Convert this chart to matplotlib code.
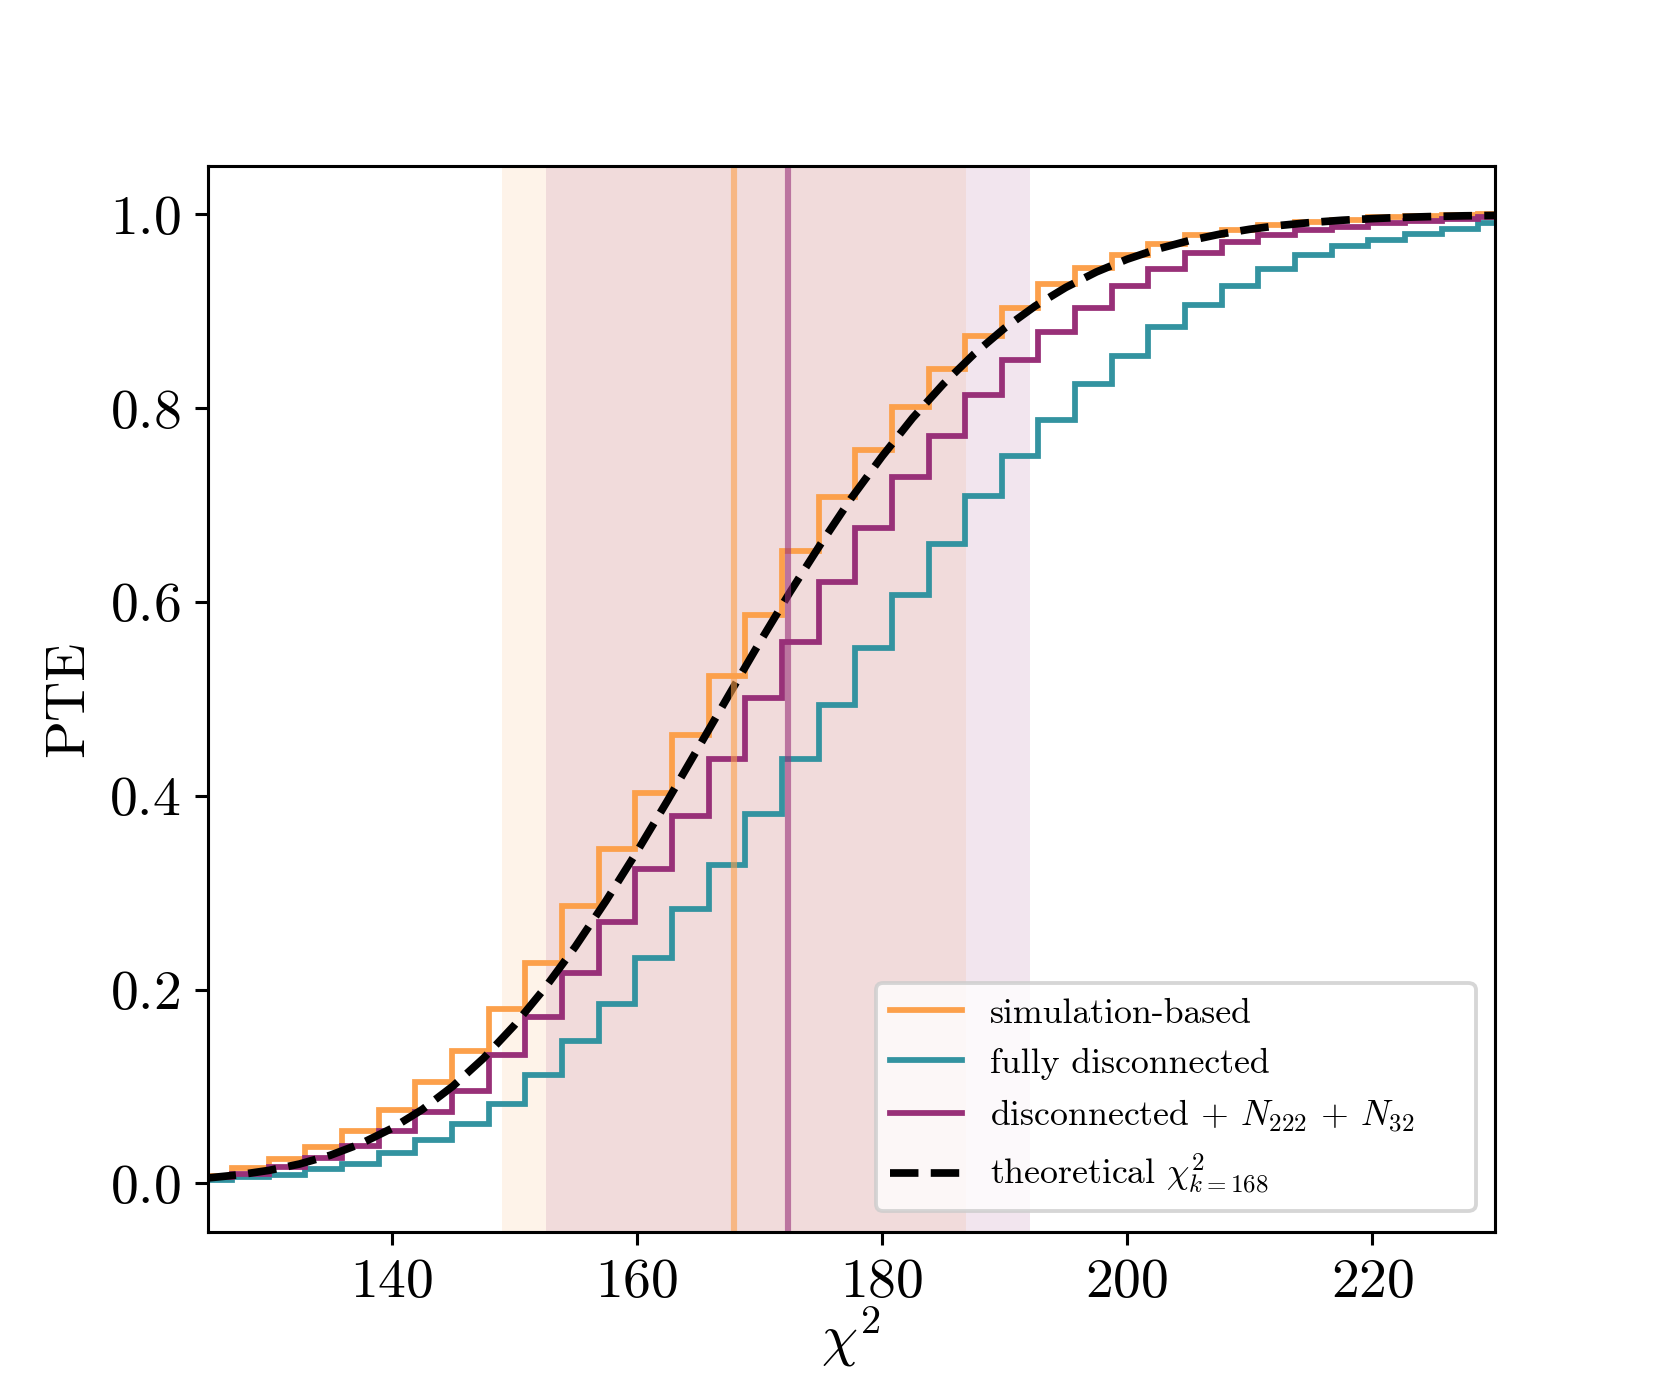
import numpy as np
import matplotlib
matplotlib.use("Agg")
import matplotlib.pyplot as plt

plt.rcParams["font.family"] = "serif"
plt.rcParams["font.serif"] = ["cmr10"]
plt.rcParams["mathtext.fontset"] = "cm"
plt.rcParams["axes.formatter.use_mathtext"] = True

# cumulative histograms (PTE), shared bins
bin_start = 124.0
bin_width = 2.99
sim_based = [0.008, 0.016, 0.025, 0.037, 0.054, 0.076, 0.105, 0.137, 0.180, 0.227,
             0.286, 0.345, 0.403, 0.463, 0.524, 0.586, 0.653, 0.708, 0.757, 0.801,
             0.840, 0.874, 0.903, 0.928, 0.945, 0.958, 0.969, 0.979, 0.984, 0.989,
             0.992, 0.994, 0.997, 0.998, 0.999, 1.000]
fully_disc = [0.003, 0.006, 0.009, 0.015, 0.020, 0.031, 0.045, 0.061, 0.082, 0.112,
              0.147, 0.185, 0.233, 0.283, 0.328, 0.381, 0.438, 0.494, 0.552, 0.607,
              0.660, 0.709, 0.751, 0.788, 0.825, 0.854, 0.884, 0.906, 0.926, 0.944,
              0.958, 0.967, 0.974, 0.980, 0.985, 0.991]
disc_n222_n32 = [0.006, 0.010, 0.017, 0.026, 0.038, 0.054, 0.074, 0.095, 0.132, 0.172,
                 0.217, 0.270, 0.324, 0.379, 0.438, 0.501, 0.559, 0.621, 0.676, 0.729,
                 0.771, 0.814, 0.850, 0.879, 0.903, 0.926, 0.944, 0.960, 0.971, 0.979,
                 0.984, 0.987, 0.991, 0.993, 0.995, 0.997]

# theoretical chi2 (k=168) curve
theo_x = [125, 127.5, 130, 132.5, 135, 137.5, 140, 142.5, 145, 147.5, 150, 152.5,
          155, 157.5, 160, 162.5, 165, 167.5, 170, 172.5, 175, 177.5, 180, 182.5,
          185, 187.5, 190, 192.5, 195, 197.5, 200, 202.5, 205, 207.5, 210, 212.5,
          215, 217.5, 220, 222.5, 225, 227.5, 230]
theo_y = [0.0055, 0.0087, 0.0133, 0.0199, 0.0289, 0.0409, 0.0565, 0.0761, 0.1002,
          0.129, 0.1628, 0.2014, 0.2444, 0.2916, 0.3419, 0.3947, 0.449, 0.5036,
          0.5577, 0.6101, 0.6597, 0.7071, 0.750, 0.7898, 0.8248, 0.8557, 0.8825,
          0.9054, 0.9246, 0.9406, 0.9537, 0.9643, 0.9727, 0.9794, 0.9846, 0.9886,
          0.9916, 0.9939, 0.9956, 0.9969, 0.9978, 0.9985, 0.9989]

# mean and std of chi2 for the two covariances
sim_mean, sim_std = 167.95, 18.9
disc_mean, disc_std = 172.35, 19.75

c_orange = "#FCA04B"
c_teal = "#3393A0"
c_purple = "#983078"

edges = bin_start + bin_width * np.arange(len(sim_based) + 1)

fig, ax = plt.subplots(figsize=(6, 5))

ax.axvspan(sim_mean - sim_std, sim_mean + sim_std, color=c_orange, alpha=0.12, lw=0)
ax.axvspan(disc_mean - disc_std, disc_mean + disc_std, color=c_purple, alpha=0.12, lw=0)

ax.stairs(sim_based, edges, color=c_orange, lw=1.5, label="simulation-based")
ax.stairs(fully_disc, edges, color=c_teal, lw=1.5, label="fully disconnected")
ax.stairs(disc_n222_n32, edges, color=c_purple, lw=1.5,
          label=r"disconnected + $N_{222}$ + $N_{32}$")
ax.plot(theo_x, theo_y, "k--", lw=2, label=r"theoretical $\chi^2_{k{=}168}$")

ax.axvline(sim_mean, color=c_orange, alpha=0.6, lw=1.6)
ax.axvline(disc_mean, color=c_purple, alpha=0.6, lw=1.6)

ax.set_xlim(125, 230)
ax.set_ylim(-0.05, 1.05)
ax.set_xlabel(r"$\chi^2$", fontsize=15, labelpad=-1)
ax.set_ylabel("PTE", fontsize=14.5)
ax.tick_params(labelsize=14.5)
ax.legend(loc="lower left", fontsize=9.3, mode="expand", borderaxespad=0,
          bbox_to_anchor=(0.519, 0.019, 0.466, 0.3))

fig.savefig("out.png", dpi=276.84)
